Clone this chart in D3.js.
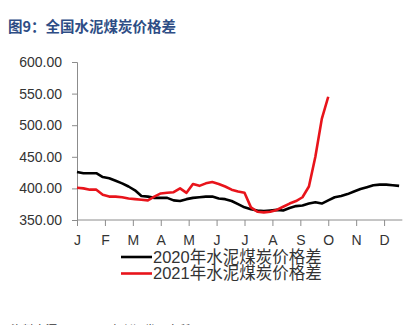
<!DOCTYPE html>
<html>
<head>
<meta charset="utf-8">
<script src="https://cdn.jsdelivr.net/npm/d3@7"></script>
<style>
  html, body { margin: 0; padding: 0; background: #fff; }
  svg { display: block; }
</style>
</head>
<body>
<svg id="chart" width="410" height="325"></svg>
<script>
// Weekly cement-coal price spread (元/吨), week index from start of year
const monthLabels = ["J", "F", "M", "A", "M", "J", "J", "A", "S", "O", "N", "D"];
const yTicks = [350, 400, 450, 500, 550, 600];
const seriesNames = ["2020年水泥煤炭价格差", "2021年水泥煤炭价格差"];

const spread2020 = [
  426, 424, 424, 424, 418, 416, 412, 408, 403, 397,
  388, 387, 385, 385, 385, 381, 380, 383, 385, 386,
  387, 387, 384, 383, 380, 375, 370, 367, 365, 364,
  365, 366, 365, 369, 372, 373, 376, 378, 376, 381,
  386, 388, 391, 395, 399, 402, 405, 406, 406, 405,
  404
];
const spread2021 = [
  401, 400, 398, 398, 390, 387, 387, 386, 384, 383,
  382, 381, 387, 392, 393, 394, 400, 393, 407, 404,
  408, 410, 407, 403, 398, 395, 393, 370, 363, 362,
  363, 366, 371, 376, 380, 386, 403, 450, 510, 545
];

const svg = d3.select("#chart");
const weeksPerYear = 52;

const x = d3.scaleLinear().domain([0, weeksPerYear]).range([77, 412]);
const y = d3.scaleLinear().domain([350, 600]).range([220, 62]);

const axisColor = "#8c8c8c";
const textColor = "#333";
const tickFont = "'Liberation Sans', Arial, sans-serif";

// Title
svg.append("text")
  .attr("x", 8).attr("y", 31.5)
  .attr("font-family", "'Noto Sans CJK SC', sans-serif")
  .attr("font-size", 14.5)
  .attr("font-weight", "bold")
  .attr("fill", "#2e4d85")
  .text("图9：全国水泥煤炭价格差");

// Y axis
const yAxis = d3.axisLeft(y)
  .tickValues(yTicks)
  .tickSize(5)
  .tickPadding(10)
  .tickFormat(d3.format(".2f"));
const gy = svg.append("g").attr("transform", `translate(${x(0)},0)`).call(yAxis);
gy.select(".domain").attr("stroke", axisColor);
gy.selectAll(".tick line").attr("stroke", axisColor);
gy.selectAll(".tick text")
  .attr("font-family", tickFont)
  .attr("font-size", 14)
  .attr("fill", textColor);

// X axis: month ticks at month boundaries
const monthPos = monthLabels.map((m, i) => i * weeksPerYear / 12);
const xAxis = d3.axisBottom(x)
  .tickValues(monthPos)
  .tickSize(6)
  .tickPadding(9)
  .tickFormat((d, i) => monthLabels[i]);
const gx = svg.append("g").attr("transform", `translate(0,${y(350)})`).call(xAxis);
gx.select(".domain").remove();
gx.append("line")
  .attr("x1", x(0)).attr("x2", x(spread2020.length - 0.5))
  .attr("stroke", axisColor);
gx.selectAll(".tick line").attr("stroke", axisColor);
gx.selectAll(".tick text")
  .attr("font-family", tickFont)
  .attr("font-size", 14)
  .attr("fill", textColor);

// Lines
const line = d3.line()
  .x((d, i) => x(i))
  .y(d => y(d))
  .curve(d3.curveLinear);

svg.append("path")
  .datum(spread2020)
  .attr("fill", "none")
  .attr("stroke", "#000")
  .attr("stroke-width", 2.6)
  .attr("stroke-linejoin", "round")
  .attr("d", line);

svg.append("path")
  .datum(spread2021)
  .attr("fill", "none")
  .attr("stroke", "#e8141b")
  .attr("stroke-width", 2.6)
  .attr("stroke-linejoin", "round")
  .attr("d", line);

// Legend
const legendColors = ["#000", "#e8141b"];
const legend = svg.append("g").attr("transform", "translate(121,257)");
seriesNames.forEach((name, i) => {
  const g = legend.append("g").attr("transform", `translate(0,${i * 16.5})`);
  g.append("line")
    .attr("x1", 0).attr("x2", 31)
    .attr("stroke", legendColors[i])
    .attr("stroke-width", 2.6);
  g.append("text")
    .attr("x", 32).attr("y", 0)
    .attr("dy", "0.36em")
    .attr("font-family", "'Liberation Sans', 'Noto Sans CJK SC', sans-serif")
    .attr("font-size", 16.5)
    .attr("fill", textColor)
    .text(name);
});

// Source note (runs past the bottom edge)
svg.append("text")
  .attr("x", 11).attr("y", 333.5)
  .attr("font-family", "'Noto Sans CJK SC', sans-serif")
  .attr("font-size", 11.5)
  .attr("fill", "#333")
  .text("资料来源：WIND，东兴证券研究所");
</script>
</body>
</html>
